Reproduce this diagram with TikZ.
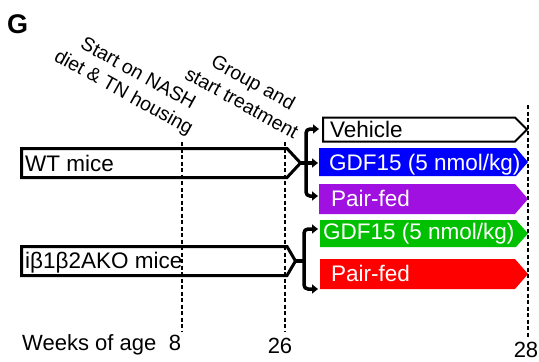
\documentclass[tikz,border=0pt]{standalone}
\usepackage{fontspec}
\setmainfont{Liberation Sans}
\usetikzlibrary{arrows.meta}
\definecolor{gdfblue}{RGB}{0,0,255}
\definecolor{pfpurple}{RGB}{160,16,224}
\definecolor{gdfgreen}{RGB}{0,192,0}
\definecolor{pfred}{RGB}{255,0,0}
\begin{document}
\begin{tikzpicture}[x=1pt,y=-1pt,
  outlinebar/.style={draw=black, line width=3pt, line join=miter, miter limit=10},
  thinbar/.style={draw=black, line width=2pt, line join=miter, miter limit=10},
  bartext/.style={anchor=base west, inner sep=0pt, font=\fontsize{22.5}{27}\selectfont},
  wtext/.style={bartext, text=white},
  guide/.style={line width=1.1pt, dash pattern=on 4pt off 2.5pt},
  forkline/.style={line width=3.5pt, rounded corners=4pt},
  tip/.style={-{Triangle[width=9pt,length=6pt]}},
  twotip/.style={{Triangle[width=9pt,length=6pt]}-{Triangle[width=9pt,length=6pt]}},
  rotlabel/.style={rotate=-29, anchor=north, align=center, inner sep=0pt, font=\fontsize{19.5}{23.5}\selectfont},
  axislabel/.style={anchor=base, inner sep=0pt, font=\fontsize{22}{26}\selectfont}
]
\useasboundingbox (0,0) rectangle (539,362);

% coordinates
\coordinate (wtTip) at (300.5,163);
\coordinate (koTip) at (295.5,261);
\coordinate (vehTip) at (527,129.5);
\coordinate (vehIn) at (319,129);
\coordinate (gdfAIn) at (318,163);
\coordinate (pfAIn) at (318,196);
\coordinate (gdfBIn) at (318,229);
\coordinate (pfBIn) at (318,289);

% bars
\draw[outlinebar] (21.5,148.5) -- (287,148.5) -- (wtTip) -- (287,177.5) -- (21.5,177.5) -- cycle;
\draw[outlinebar] (21.5,246.5) -- (287,246.5) -- (koTip) -- (287,275.5) -- (21.5,275.5) -- cycle;
\draw[thinbar] (323,117.5) -- (515,117.5) -- (vehTip) -- (515,141.5) -- (323,141.5) -- cycle;
\fill[gdfblue] (319,148) -- (516,148) -- (528,162) -- (516,176) -- (319,176) -- cycle;
\fill[pfpurple] (319,184) -- (515,184) -- (528,199) -- (515,214) -- (319,214) -- cycle;
\fill[gdfgreen] (320,220) -- (516,220) -- (528,233.5) -- (516,247) -- (320,247) -- cycle;
\fill[pfred] (320,259) -- (515,259) -- (528,274) -- (515,289) -- (320,289) -- cycle;

% guides
\draw[guide] (182,142) -- (182,332);
\draw[guide] (285,142) -- (285,332);
\draw[guide] (528,105) -- (528,338);

% bar texts
\node[bartext] (wt) at (25,171.5) {WT mice};
\node[bartext] (ko) at (25,268) {iβ1β2AKO mice};
\node[bartext] (veh) at (330,137) {Vehicle};
\node[wtext] (gdfA) at (329,170.5) {GDF15 (5 nmol/kg)};
\node[wtext] (pfA) at (331,206) {Pair-fed};
\node[wtext] (gdfB) at (323,239) {GDF15 (5 nmol/kg)};
\node[wtext] (pfB) at (331,281) {Pair-fed};

% forks
\draw[forkline, twotip] (vehIn) -- (306,129) -- (306,196) -- (pfAIn);
\draw[line width=3.5pt, tip] (wtTip) -- (gdfAIn);
\draw[forkline, twotip] (gdfBIn) -- (304,229) -- (304,289) -- (pfBIn);
\draw[line width=3.5pt] (koTip) -- (304,261);

% labels
\node[anchor=base west, inner sep=0pt, font=\fontsize{27}{32}\selectfont\bfseries] (panel) at (7,33.5) {G};
\node[rotlabel] (nash) at (139,65) {\hspace*{7pt}Start on NASH\\diet \& TN housing};
\node[rotlabel] (grp) at (257,75.6) {Group and\\start treatment};
\node[axislabel, anchor=base west] (weeks) at (22,350) {Weeks of age};
\node[axislabel] (w8) at (175,350) {8};
\node[axislabel] (w26) at (280,353) {26};
\node[axislabel] (w28) at (526,357) {28};
\end{tikzpicture}
\end{document}
